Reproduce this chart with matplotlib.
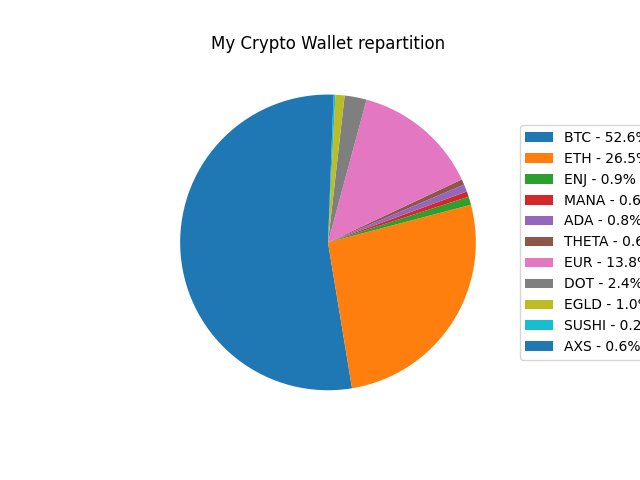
import matplotlib
matplotlib.use("Agg")
import matplotlib.pyplot as plt

coins = ["BTC", "ETH", "ENJ", "MANA", "ADA", "THETA", "EUR", "DOT", "EGLD", "SUSHI", "AXS"]
shares = [52.6, 26.5, 0.9, 0.6, 0.8, 0.6, 13.8, 2.4, 1.0, 0.2, 0.6]

labels = [f"{c} - {v:.1f}%" for c, v in zip(coins, shares)]

fig, ax = plt.subplots(figsize=(6.4, 4.8), dpi=100)
wedges, _ = ax.pie(shares, startangle=90)
ax.set_title("My Crypto Wallet repartition")
ax.legend(wedges, labels, loc="center left", bbox_to_anchor=(1, 0.5))
fig.savefig("out.png")
